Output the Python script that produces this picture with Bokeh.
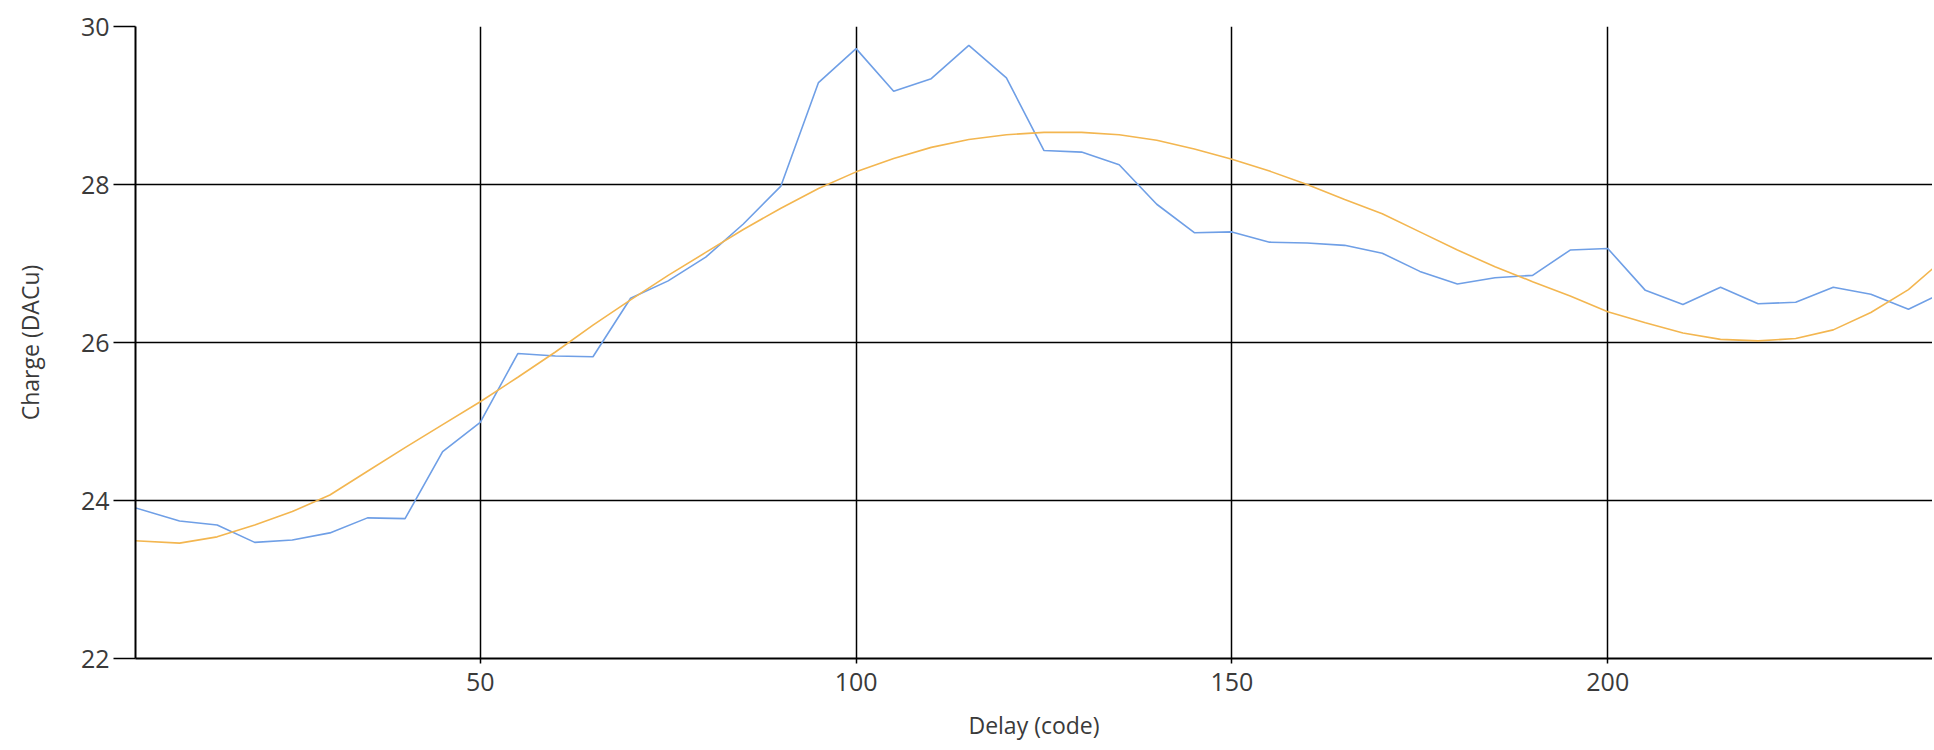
from bokeh.plotting import figure
from bokeh.models import Range1d, FixedTicker
from bokeh.embed import file_html
from bokeh.resources import INLINE

# Delay (code) sample positions
delay = [4, 10, 15, 20, 25, 30, 35, 40, 45, 50, 55, 60, 65, 70, 75, 80, 85, 90,
         95, 100, 105, 110, 115, 120, 125, 130, 135, 140, 145, 150, 155, 160,
         165, 170, 175, 180, 185, 190, 195, 200, 205, 210, 215, 220, 225, 230,
         235, 240, 245]

# Measured charge (DACu)
charge = [23.91, 23.74, 23.69, 23.47, 23.50, 23.59, 23.78, 23.77, 24.62, 24.99,
          25.86, 25.83, 25.82, 26.56, 26.78, 27.08, 27.50, 27.98, 29.29, 29.72,
          29.18, 29.34, 29.76, 29.35, 28.43, 28.41, 28.25, 27.75, 27.39, 27.40,
          27.27, 27.26, 27.23, 27.13, 26.90, 26.74, 26.82, 26.85, 27.17, 27.19,
          26.66, 26.48, 26.70, 26.49, 26.51, 26.70, 26.61, 26.42, 26.65]

# Fitted curve (DACu)
fit = [23.49, 23.46, 23.54, 23.69, 23.86, 24.07, 24.37, 24.67, 24.96, 25.25,
       25.56, 25.88, 26.22, 26.54, 26.85, 27.14, 27.43, 27.70, 27.95, 28.16,
       28.33, 28.47, 28.57, 28.63, 28.66, 28.66, 28.63, 28.56, 28.45, 28.32,
       28.17, 28.00, 27.81, 27.63, 27.40, 27.17, 26.96, 26.77, 26.59, 26.39,
       26.25, 26.12, 26.04, 26.02, 26.05, 26.16, 26.38, 26.67, 27.08]

x_ticks = [50, 100, 150, 200]
y_ticks = [22, 24, 26, 28, 30]

p = figure(width=1932, height=748, output_backend="svg", toolbar_location=None,
           x_range=Range1d(4.14, 243.2), y_range=Range1d(22, 30),
           min_border_left=135, min_border_top=26, min_border_bottom=90,
           min_border_right=0)

p.outline_line_color = None
p.background_fill_color = "white"
p.border_fill_color = "white"

p.line(delay, charge, line_color="#6f9fe6", line_width=1.6)
p.line(delay, fit, line_color="#f3b650", line_width=1.6)

FONT = "Open Sans"
LABEL_COLOR = "#3a3a3a"

p.xaxis.ticker = FixedTicker(ticks=x_ticks)
p.yaxis.ticker = FixedTicker(ticks=y_ticks)
p.xaxis.minor_tick_line_color = None
p.yaxis.minor_tick_line_color = None

for ax in (p.xaxis, p.yaxis):
    ax.axis_line_color = "black"
    ax.axis_line_width = 2
    ax.major_tick_line_color = "black"
    ax.major_tick_line_width = 1.5
    ax.major_tick_in = 0
    ax.major_label_text_font = FONT
    ax.major_label_text_font_size = "25px"
    ax.major_label_text_color = LABEL_COLOR
    ax.axis_label_text_font = FONT
    ax.axis_label_text_font_size = "23px"
    ax.axis_label_text_font_style = "normal"
    ax.axis_label_text_color = LABEL_COLOR

p.xaxis.major_tick_out = 5
p.xaxis.major_label_standoff = 9
p.xaxis.axis_label = "Delay (code)"
p.xaxis.axis_label_standoff = 15

p.yaxis.major_tick_out = 22
p.yaxis.major_label_standoff = 4
p.yaxis.axis_label = "Charge (DACu)"
p.yaxis.axis_label_standoff = 32

p.xgrid.ticker = FixedTicker(ticks=x_ticks)
p.ygrid.ticker = FixedTicker(ticks=y_ticks)
p.xgrid.grid_line_color = "black"
p.ygrid.grid_line_color = "black"
p.xgrid.grid_line_width = 1.5
p.ygrid.grid_line_width = 1.5

open("out.html", "w").write(file_html(p, INLINE))
